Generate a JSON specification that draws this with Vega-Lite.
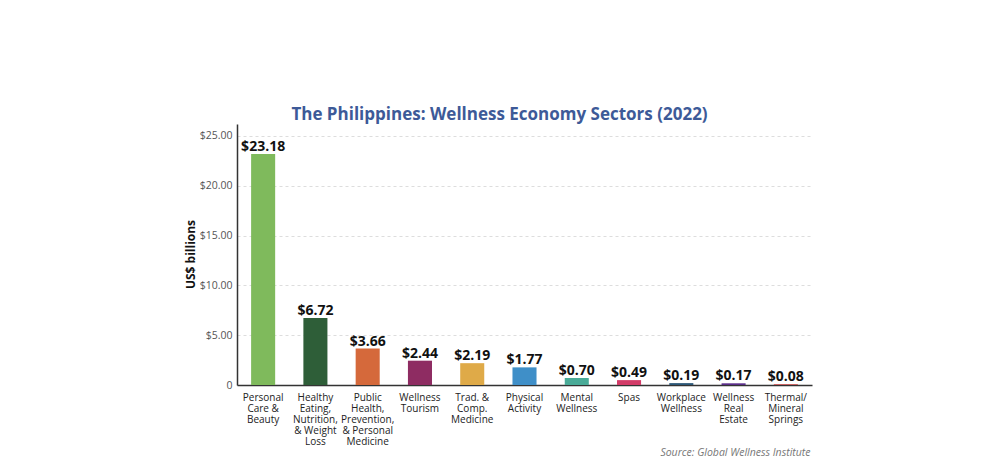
{
  "$schema": "https://vega.github.io/schema/vega-lite/v6.json",
  "autosize": "none",
  "width": 575,
  "height": 261,
  "padding": {"left": 237, "top": 124, "right": 188, "bottom": 76},
  "background": "white",
  "title": {
    "text": "The Philippines: Wellness Economy Sectors (2022)",
    "anchor": "middle",
    "dx": -25,
    "offset": 0,
    "font": "Open Sans",
    "fontSize": 17,
    "fontWeight": "bold",
    "color": "#3d5a98"
  },
  "config": {
    "view": {"stroke": null},
    "font": "Open Sans"
  },
  "data": {
    "values": [
      {"sector": "Personal|Care &|Beauty", "value": 23.18, "color": "#7fba5c"},
      {"sector": "Healthy|Eating,|Nutrition,|& Weight|Loss", "value": 6.72, "color": "#2e5e38"},
      {"sector": "Public|Health,|Prevention,|& Personal|Medicine", "value": 3.66, "color": "#d5693b"},
      {"sector": "Wellness|Tourism", "value": 2.44, "color": "#8e2c62"},
      {"sector": "Trad. &|Comp.|Medicine", "value": 2.19, "color": "#dfaa48"},
      {"sector": "Physical|Activity", "value": 1.77, "color": "#3f8fc8"},
      {"sector": "Mental|Wellness", "value": 0.70, "color": "#4aab98"},
      {"sector": "Spas", "value": 0.49, "color": "#d23c68"},
      {"sector": "Workplace|Wellness", "value": 0.19, "color": "#2d5878"},
      {"sector": "Wellness|Real|Estate", "value": 0.17, "color": "#5b2e8a"},
      {"sector": "Thermal/|Mineral|Springs", "value": 0.08, "color": "#c94a4a"}
    ]
  },
  "encoding": {
    "x": {
      "field": "sector",
      "type": "nominal",
      "sort": null,
      "scale": {"paddingInner": 0.54, "paddingOuter": 0.27},
      "axis": {
        "title": "Source: Global Wellness Institute",
        "titleFont": "Open Sans",
        "titleFontStyle": "italic",
        "titleFontWeight": "normal",
        "titleFontSize": 10.5,
        "titleColor": "#777",
        "titleAnchor": "end",
        "titleAlign": "right",
        "titleBaseline": "middle",
        "titleX": 573,
        "titleY": 67,
        "labelAngle": 0,
        "labelExpr": "split(datum.label, '|')",
        "labelFontSize": 10,
        "labelColor": "#222",
        "labelLineHeight": 11,
        "labelPadding": 7,
        "labelBaseline": "top",
        "ticks": false,
        "domainColor": "#333",
        "domainWidth": 1.5
      }
    },
    "y": {
      "field": "value",
      "type": "quantitative",
      "scale": {"domain": [0, 26.2], "nice": false},
      "axis": {
        "title": "US$ billions",
        "titleFontSize": 12,
        "titleFontWeight": "bold",
        "titleColor": "#111",
        "titleX": -47,
        "titleY": 130,
        "titleBaseline": "middle",
        "titleAlign": "center",
        "titleAngle": -90,
        "values": [0, 5, 10, 15, 20, 25],
        "labelExpr": "datum.value == 0 ? '0' : '$' + format(datum.value, '.2f')",
        "labelFontSize": 10.5,
        "labelColor": "#555",
        "labelPadding": 5,
        "ticks": false,
        "domainColor": "#333",
        "domainWidth": 1.5,
        "grid": true,
        "gridColor": "#dddddd",
        "gridDash": [3, 3]
      }
    }
  },
  "layer": [
    {
      "mark": {"type": "bar"},
      "encoding": {
        "color": {"field": "color", "type": "nominal", "scale": null, "legend": null}
      }
    },
    {
      "mark": {"type": "text", "baseline": "alphabetic", "dy": -3, "fontSize": 14, "fontWeight": "bold", "color": "#111"},
      "encoding": {
        "text": {"field": "value", "type": "quantitative", "format": "$.2f"}
      }
    }
  ]
}
